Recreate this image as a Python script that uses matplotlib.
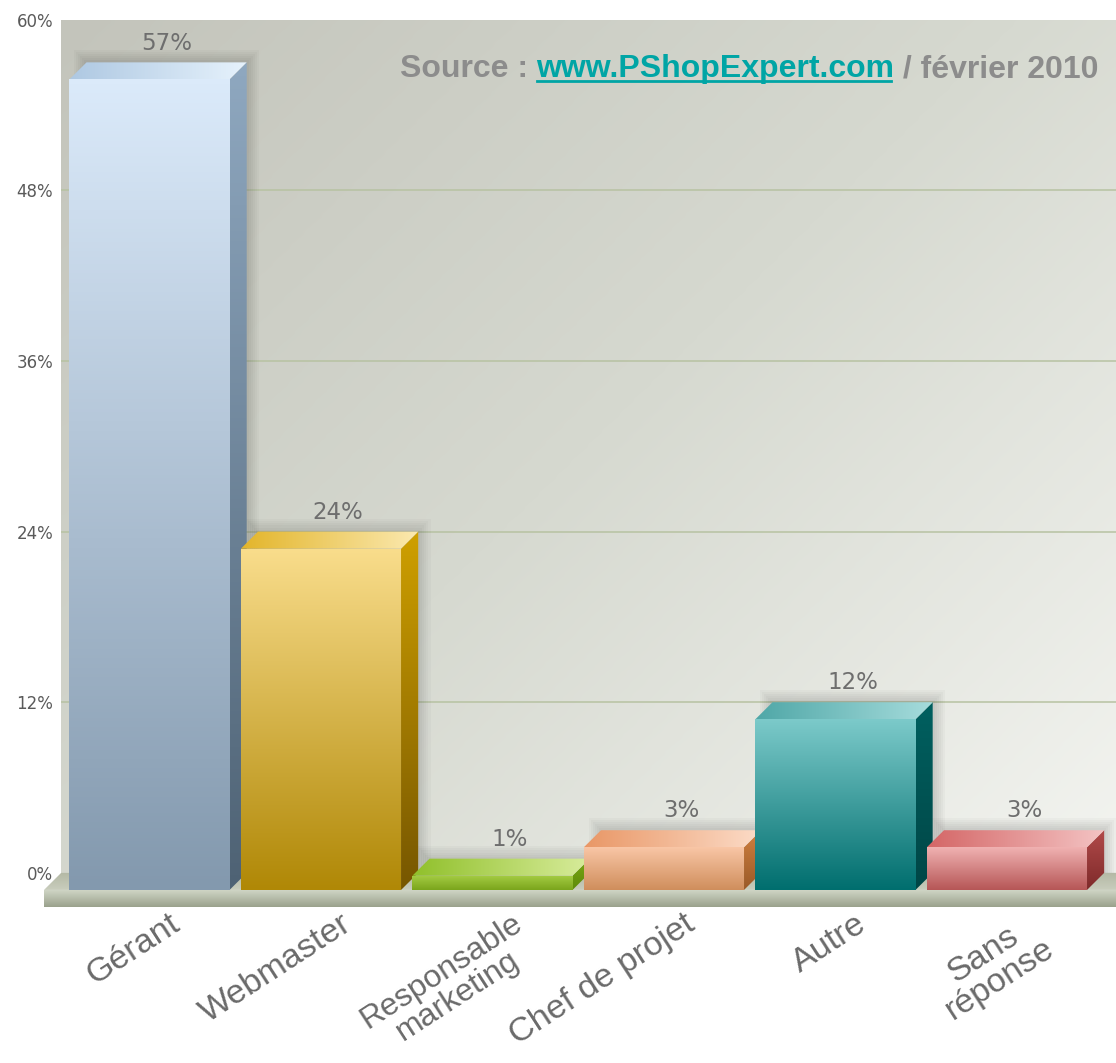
import numpy as np
import matplotlib.pyplot as plt
from matplotlib.patches import Polygon
from matplotlib.colors import LinearSegmentedColormap
from matplotlib.lines import Line2D
from matplotlib.transforms import ScaledTranslation

categories = ['Gérant', 'Webmaster', 'Responsable\nmarketing', 'Chef de projet', 'Autre', 'Sans\nréponse']
values = [57, 24, 1, 3, 12, 3]
yticks = [0, 12, 24, 36, 48, 60]

# (front top, front bottom, side top, side bottom, top left, top right)
bar_colors = [
    ('#dbeafa', '#8399ae', '#8fa8c0', '#4e6274', '#aec8e2', '#e6f2fc'),
    ('#f9dd8c', '#b08806', '#cfa000', '#765600', '#e3b52a', '#fbe9b0'),
    ('#a6cd44', '#7aa51c', '#79a814', '#5e8a0a', '#90c02a', '#d8ec9c'),
    ('#f9c6a6', '#cf8e5c', '#d08040', '#9a5a28', '#e99766', '#fcdcc8'),
    ('#7ccaca', '#006e6e', '#006060', '#004646', '#4fa7a7', '#a6dcdc'),
    ('#f0b2b2', '#b65656', '#b24a4a', '#7e2a2a', '#d46666', '#f4c4c4'),
]

W, H = 1116, 1063
fig = plt.figure(figsize=(W / 100, H / 100), dpi=100)
ax = fig.add_axes([44 / W, 1 - 907 / H, (W - 44) / W, (907 - 19.7) / H])

dx = 0.1      # depth in category units
dy = 1.2      # depth in percent
hw = 0.467    # half width of a bar
wall_left = -0.515
xmin, xmax = wall_left - dx, 5.636
ymin, ymax = -2 * dy, 60


def shade(verts, c1, c2, z, horizontal=False):
    poly = Polygon(verts, closed=True, facecolor='none', edgecolor='none', zorder=z)
    ax.add_patch(poly)
    xs = [p[0] for p in verts]
    ys = [p[1] for p in verts]
    if horizontal:
        grad = np.linspace(0, 1, 256).reshape(1, -1)
    else:
        grad = np.linspace(0, 1, 256).reshape(-1, 1)
    cmap = LinearSegmentedColormap.from_list('g', [c1, c2])
    im = ax.imshow(grad, cmap=cmap, extent=[min(xs), max(xs), min(ys), max(ys)],
                   aspect='auto', origin='upper', interpolation='bicubic', zorder=z)
    im.set_clip_path(poly)


# back wall with diagonal gradient
gx, gy = np.meshgrid(np.linspace(0, 1, 300), np.linspace(0, 1, 300))
wall = 0.55 * gx + 0.45 * gy
wall_cmap = LinearSegmentedColormap.from_list('wall', ['#c3c4bb', '#d6d9d0', '#f3f4f0'])
ax.imshow(wall, cmap=wall_cmap, extent=[wall_left, xmax, 0, ymax], aspect='auto',
          origin='upper', interpolation='bicubic', zorder=0)
ax.hlines(yticks[1:-1], wall_left, xmax, color='#b7c2a2', lw=1.1, zorder=1)

# floor
shade([(xmin, -dy), (wall_left, 0), (xmax, 0), (xmax, -dy)], '#b3b8a4', '#c9cdbd', 2)
shade([(xmin, -dy), (xmax, -dy), (xmax, -2 * dy), (xmin, -2 * dy)], '#d2d8c8', '#9aa18c', 2)

# bars
for i, (v, c) in enumerate(zip(values, bar_colors)):
    z = 3 + i
    x0, x1 = i - hw, i + hw
    # soft shadow on the wall
    for k in range(6):
        e = 0.012 * (k + 1)
        ax.add_patch(Polygon([(x0 + dx - e, 0), (x0 + dx - e, v + e * 12),
                              (x1 + dx + e, v + e * 12), (x1 + dx + e, 0)],
                             closed=True, facecolor='black', edgecolor='none',
                             alpha=0.025, zorder=2.5))
    shade([(x0, -dy), (x1, -dy), (x1, v - dy), (x0, v - dy)], c[0], c[1], z)
    shade([(x1, -dy), (x1 + dx, 0), (x1 + dx, v), (x1, v - dy)], c[2], c[3], z)
    shade([(x0, v - dy), (x1, v - dy), (x1 + dx, v), (x0 + dx, v)], c[4], c[5], z, horizontal=True)
    ax.text(i + dx, v + 0.9, f'{v}%', ha='center', va='baseline', fontsize=16.5,
            color='#6e6e6e', family='DejaVu Sans', zorder=20)

ax.set_xlim(xmin, xmax)
ax.set_ylim(ymin, ymax)
for s in ax.spines.values():
    s.set_visible(False)
ax.patch.set_visible(False)

ax.set_yticks(yticks, [f'{t}%' for t in yticks])
ax.tick_params(axis='y', length=0, pad=-6.5, labelsize=12, labelcolor='#5a5a5a')
ax.set_xticks(range(len(categories)))
ax.set_xticklabels(categories, rotation=33, ha='right', va='top', rotation_mode='anchor',
                   fontsize=24.5, color='#6a6a6a', family='Liberation Sans',
                   multialignment='center', linespacing=0.95)
ax.tick_params(axis='x', length=0, pad=1)
shift = ScaledTranslation(14 / 72, 0, fig.dpi_scale_trans)
for lab in ax.get_xticklabels():
    lab.set_transform(lab.get_transform() + shift)

# shrink a label a little if it runs past the bottom edge
r = fig.canvas.get_renderer()
fig.canvas.draw()
for lab in ax.get_xticklabels():
    while lab.get_window_extent(r).y0 < 1 and lab.get_fontsize() > 18:
        lab.set_fontsize(lab.get_fontsize() - 0.5)

# source line, three pieces laid out right to left
base_y = 1 - 77 / H
src = dict(fontsize=23, fontweight='bold', family='Liberation Sans', va='baseline', ha='right')
t3 = fig.text(1099 / W, base_y, ' / février 2010', color='#8c8c8c', **src)
b3 = t3.get_window_extent(r)
t2 = fig.text(b3.x0 / W, base_y, 'www.PShopExpert.com', color='#00a5a5', **src)
b2 = t2.get_window_extent(r)
t1 = fig.text(b2.x0 / W, base_y, 'Source : ', color='#8c8c8c', **src)
uy = base_y - 4 / H
fig.add_artist(Line2D([b2.x0 / W, (b2.x1 - 4) / W], [uy, uy], color='#00a5a5', lw=2))

fig.savefig('out.png', dpi=100)
